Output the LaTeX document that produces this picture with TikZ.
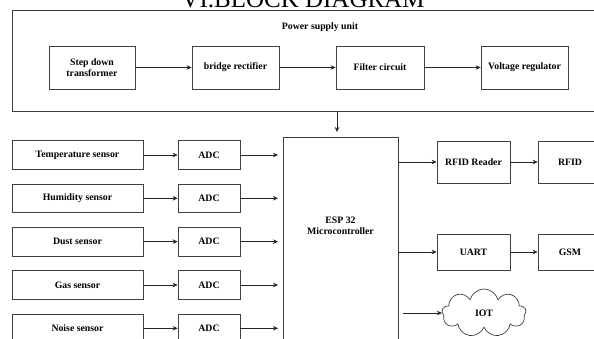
\documentclass[tikz,border=0pt]{standalone}
\usepackage{fontspec}
\setmainfont{Liberation Serif}
\usetikzlibrary{arrows.meta,shapes.symbols}
\begin{document}
\begin{tikzpicture}[x=1pt,y=-1pt,
  lbl/.style={font=\fontsize{9.8}{11.5}\selectfont\bfseries, align=center, inner sep=0pt},
  box/.style={lbl, draw=black!75, line width=0.7pt, fill=white},
  arr/.style={-{Stealth[length=5pt,width=4.5pt]}, line width=0.6pt, draw=black!85}]
\useasboundingbox (0,0) rectangle (594,339);
% title (cut by the page top)
\node[font=\fontsize{25}{25}\selectfont, anchor=base, inner sep=0pt] (title) at (303,8) {VI.BLOCK DIAGRAM};
% power supply unit
\node[draw=black!75, line width=0.8pt, minimum width=590, minimum height=101, anchor=north west, inner sep=0pt] (psu) at (12,10) {};
\node[lbl] (psulabel) at (320,27) {Power supply unit};
\node[box, minimum width=86, minimum height=43] (sdt) at (92,67.5) {Step down\\transformer};
\node[box, minimum width=87, minimum height=43] (br) at (235.5,67.5) {bridge rectifier};
\node[box, minimum width=88, minimum height=43] (fc) at (380,67.5) {Filter circuit};
\node[box, minimum width=87, minimum height=43] (vr) at (524.5,67.5) {Voltage regulator};
\draw[arr] (sdt) -- (br);
\draw[arr] (br) -- (fc);
\draw[arr] (fc) -- (vr);
% ESP32
\node[box, minimum width=115, minimum height=210, anchor=north west] (esp) at (283,137) {};
\node[lbl] (esplabel) at (340.5,226) {ESP 32\\Microcontroller};
\coordinate (espin) at (337,137);
\draw[arr, shorten >=5pt] (psu.south -| espin) -- (espin);
% sensors
\foreach \n/\t/\y in {1/Temperature sensor/155,2/Humidity sensor/198.3,3/Dust sensor/241.6,4/Gas sensor/285,5/Noise sensor/328.3}{
  \node[box, minimum width=131, minimum height=28.5] (s\n) at (77.5,\y) {\t};
  \node[box, minimum width=62, minimum height=28.5] (a\n) at (209,\y) {ADC};
  \draw[arr] (s\n) -- (a\n);
  \draw[arr, shorten >=5pt] (a\n) -- (a\n -| esp.west);
}
% outputs
\node[box, minimum width=73, minimum height=42] (rr) at (473.5,162) {RFID Reader};
\node[box, minimum width=64, minimum height=42] (rfid) at (570,162) {RFID};
\node[box, minimum width=73, minimum height=36] (uart) at (473.5,252) {UART};
\node[box, minimum width=64, minimum height=36] (gsm) at (570,252) {GSM};
\draw[arr] (rr.west -| esp.east) -- (rr);
\draw[arr] (rr) -- (rfid);
\draw[arr] (uart.west -| esp.east) -- (uart);
\draw[arr] (uart) -- (gsm);
\node[lbl, draw=black!75, line width=0.7pt, cloud, cloud puffs=9, cloud ignores aspect, minimum width=84, minimum height=48] (iot) at (484,313) {IOT};
\draw[arr, shorten <=4pt] (esp.east |- iot.west) -- (iot.west);
\end{tikzpicture}
\end{document}
